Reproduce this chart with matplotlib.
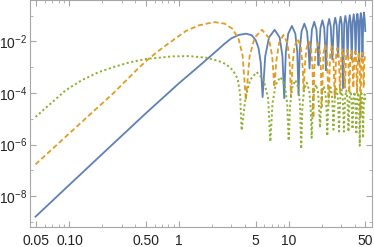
import numpy as np
import matplotlib
matplotlib.use('Agg')
import matplotlib.pyplot as plt

# values: x, and log10 of y
blue_x = [0.049, 0.1, 0.2, 0.5, 1.0, 1.5, 2.0, 2.6, 3.0, 3.5, 4.1, 4.6, 5.0, 5.3, 5.55, 5.78,
          6.11, 6.61, 7.44, 8.27, 8.77, 9.1,
          9.42, 9.9, 10.7, 11.5, 11.98, 12.3,
          12.62, 13.1, 13.9, 14.7, 15.18, 15.5,
          15.82, 16.3, 17.1, 17.9, 18.38, 18.7,
          19.02, 19.5, 20.3, 21.1, 21.53, 21.85,
          22.6, 23.4, 24.2, 25.0,
          25.8, 26.6, 27.4, 28.2,
          29.0, 29.75, 30.5, 31.3,
          32.1, 32.9, 33.7, 34.5,
          35.3, 36.05, 36.8, 37.6,
          38.4, 39.2, 40.0, 40.8,
          41.6, 42.35, 43.1, 43.9,
          44.7, 45.5, 46.3, 47.1,
          47.9, 48.65, 49.4, 50.0]
blue_e = [-8.80, -7.56, -6.36, -4.78, -3.62, -2.98, -2.52, -2.09, -1.88, -1.75, -1.70, -1.76, -1.95, -2.25, -2.8, -4.16,
          -2.57, -1.85, -1.55, -1.85, -2.57, -4.20,
          -2.42, -1.70, -1.40, -1.70, -2.42, -4.09,
          -2.33, -1.61, -1.31, -1.61, -2.33, -3.05,
          -2.26, -1.54, -1.24, -1.54, -2.26, -2.93,
          -2.20, -1.48, -1.18, -1.48, -2.20, -3.12,
          -1.43, -1.13, -1.43, -2.70,
          -1.38, -1.08, -1.38, -2.60,
          -1.34, -1.04, -1.34, -3.82,
          -1.31, -1.01, -1.31, -2.60,
          -1.28, -0.98, -1.28, -2.70,
          -1.25, -0.95, -1.25, -2.50,
          -1.23, -0.93, -1.23, -2.80,
          -1.20, -0.90, -1.20, -2.60,
          -1.18, -0.88, -1.18, -1.60]

orange_x = [0.049, 0.13, 0.25, 0.35, 0.43, 0.53, 0.7, 0.87, 1.15, 1.5, 2.09, 2.6, 3.07, 3.5, 3.8, 4.07,
            4.4, 4.9, 5.7, 6.57, 7.07, 7.4,
            7.71, 8.18, 8.95, 9.72, 10.19, 10.5,
            10.82, 11.3, 12.1, 12.9, 13.38, 13.7,
            14.01, 14.48, 15.25, 16.02, 16.49, 16.8,
            17.12, 17.6, 18.4, 19.2, 19.68, 20.0,
            20.78, 21.55, 22.32, 23.1,
            23.9, 24.7, 25.5, 26.3,
            27.08, 27.85, 28.62, 29.4,
            30.2, 31.0, 31.8, 32.6,
            33.38, 34.15, 34.92, 35.7,
            36.5, 37.3, 38.1, 38.9,
            39.68, 40.45, 41.22, 42.0,
            42.8, 43.6, 44.4, 45.2,
            45.98, 46.75, 47.52, 48.3,
            49.08, 49.85, 50.0]
orange_e = [-6.77, -5.12, -4.02, -3.40, -3.02, -2.67, -2.26, -1.97, -1.60, -1.38, -1.25, -1.31, -1.51, -1.92, -2.55, -4.28,
            -2.57, -1.85, -1.55, -1.85, -2.57, -3.77,
            -2.77, -2.05, -1.75, -2.05, -2.77, -4.16,
            -2.92, -2.20, -1.90, -2.20, -2.92, -3.96,
            -3.00, -2.30, -2.00, -2.30, -3.00, -4.98,
            -3.10, -2.38, -2.08, -2.38, -3.10, -4.54,
            -2.45, -2.15, -2.45, -4.40,
            -2.50, -2.20, -2.50, -4.20,
            -2.55, -2.25, -2.55, -4.00,
            -2.60, -2.30, -2.60, -3.80,
            -2.63, -2.33, -2.63, -4.00,
            -2.66, -2.36, -2.66, -3.80,
            -2.69, -2.39, -2.69, -4.00,
            -2.72, -2.42, -2.72, -4.98,
            -2.74, -2.44, -2.74, -3.80,
            -2.76, -2.46, -2.46]

green_x = [0.049, 0.07, 0.092, 0.13, 0.185, 0.25, 0.349, 0.5, 0.87, 1.23, 1.75, 2.3, 2.67, 3.1, 3.42, 3.6, 3.72,
           4.03, 4.45, 5.1, 5.9, 6.49, 6.8,
           7.12, 7.6, 8.4, 9.2, 9.68, 10.0,
           10.3, 10.75, 11.5, 12.25, 12.7, 13.0,
           13.32, 13.8, 14.6, 15.4, 15.88, 16.2,
           16.51, 16.98, 17.75, 18.52, 18.99, 19.3,
           19.62, 20.1, 20.9, 21.7, 22.18, 22.5,
           22.81, 23.28, 24.05, 24.82, 25.29, 25.6,
           25.92, 26.4, 27.2, 28.0, 28.48, 28.8,
           29.11, 29.58, 30.35, 31.12, 31.59, 31.9,
           32.22, 32.7, 33.5, 34.3, 34.78, 35.1,
           35.41, 35.88, 36.65, 37.42, 37.89, 38.2,
           38.52, 39.0, 39.8, 40.6, 41.08, 41.4,
           41.71, 42.18, 42.95, 43.72, 44.19, 44.5,
           44.82, 45.3, 46.1, 46.9, 47.38, 47.7,
           48.01, 48.48, 49.25, 50.0]
green_e = [-4.93, -4.35, -3.90, -3.50, -3.19, -3.00, -2.82, -2.68, -2.58, -2.57, -2.63, -2.76, -2.88, -3.12, -3.45, -4.00, -5.45,
           -4.20, -3.49, -3.19, -3.49, -4.20, -5.89,
           -4.40, -3.68, -3.38, -3.68, -4.40, -5.85,
           -4.50, -3.80, -3.50, -3.80, -4.50, -6.17,
           -4.60, -3.90, -3.60, -3.90, -4.60, -5.74,
           -4.67, -3.97, -3.67, -3.97, -4.67, -5.35,
           -4.73, -4.03, -3.73, -4.03, -4.73, -5.67,
           -4.78, -4.08, -3.78, -4.08, -4.78, -5.42,
           -4.83, -4.13, -3.83, -4.13, -4.83, -5.57,
           -4.87, -4.17, -3.87, -4.17, -4.87, -5.50,
           -4.90, -4.20, -3.90, -4.20, -4.90, -5.50,
           -4.93, -4.23, -3.93, -4.23, -4.93, -5.40,
           -4.96, -4.26, -3.96, -4.26, -4.96, -5.60,
           -4.99, -4.29, -3.99, -4.29, -4.99, -6.05,
           -5.02, -4.32, -4.02, -4.32, -5.02, -5.75,
           -5.05, -4.35, -4.05, -4.30]

xticks = [0.05, 0.1, 0.5, 1, 5, 10, 50]
xticklabels = ['0.05', '0.10', '0.50', '1', '5', '10', '50']
xminor = [0.06, 0.07, 0.08, 0.09, 0.2, 0.3, 0.4, 0.6, 0.7, 0.8, 0.9,
          2, 3, 4, 6, 7, 8, 9, 20, 30, 40]
yticks = [1e-8, 1e-6, 1e-4, 1e-2]
yticklabels = ['$10^{-8}$', '$10^{-6}$', '$10^{-4}$', '$10^{-2}$']
yminor = [1e-9, 1e-7, 1e-5, 1e-3, 1e-1]

plt.rcParams['font.family'] = 'Liberation Sans'
plt.rcParams['mathtext.fontset'] = 'custom'
plt.rcParams['mathtext.rm'] = 'Liberation Sans'
plt.rcParams['mathtext.it'] = 'Liberation Sans'

fig = plt.figure(figsize=(3.74, 2.47), dpi=100)
ax = fig.add_axes([30/374, 20/247, 342/374, 226.5/247])

ax.plot(blue_x, 10.0 ** np.array(blue_e), color='#5E81B5', lw=1.3)
ax.plot(orange_x, 10.0 ** np.array(orange_e), color='#E19C24', lw=1.3,
        linestyle=(0, (2.8, 1.6)))
ax.plot(green_x, 10.0 ** np.array(green_e), color='#8FB032', lw=1.4,
        linestyle=(0, (1.1, 1.3)))

ax.set_xscale('log')
ax.set_yscale('log')
ax.set_xlim(10 ** -1.36, 10 ** 1.76)
ax.set_ylim(10 ** -9.2, 10 ** -0.413)

ax.set_xticks(xticks)
ax.set_xticklabels(xticklabels)
ax.set_xticks(xminor, minor=True)
ax.set_xticklabels([], minor=True)
ax.set_yticks(yticks)
ax.set_yticklabels(yticklabels)
ax.set_yticks(yminor, minor=True)
ax.set_yticklabels([], minor=True)

frame = '#a6a6a6'
for s in ax.spines.values():
    s.set_color(frame)
    s.set_linewidth(0.8)
ax.tick_params(which='both', direction='in', top=True, right=True,
               color=frame, labelcolor='#222222', labelsize=10)
ax.tick_params(which='major', length=4, width=0.8)
ax.tick_params(which='minor', length=2.5, width=0.6)
ax.tick_params(axis='x', pad=5)
ax.tick_params(axis='y', pad=2)

fig.savefig('out.png', dpi=100)
